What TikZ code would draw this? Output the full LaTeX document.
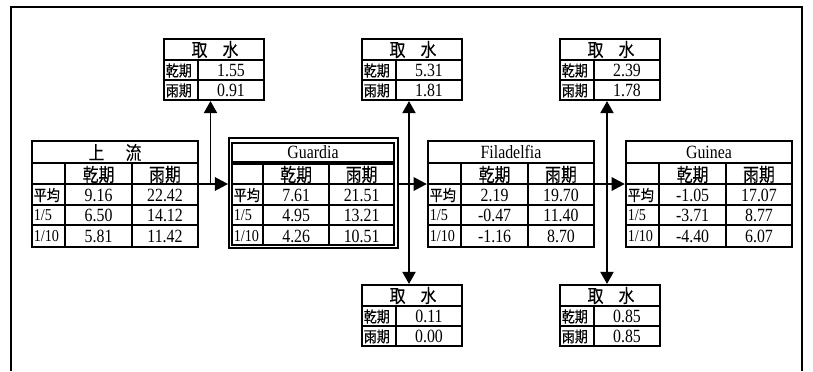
\documentclass[tikz,border=0pt]{standalone}
\usepackage{fontspec}
\setmainfont{Liberation Serif}[FakeStretch=0.85]
\newfontfamily\cjk{Noto Sans CJK TC}[FakeStretch=0.85,FakeBold=0.15]
\usetikzlibrary{arrows.meta}
\tikzset{
 tblbox/.style={draw, line width=1.7pt, inner sep=0pt},
 gline/.style={line width=1.6pt},
 num/.style={inner sep=0pt, font=\fontsize{14}{15}\selectfont},
 lab/.style={inner sep=0pt, anchor=west, font=\fontsize{12.5}{13}\selectfont},
 cjklab/.style={inner sep=0pt, anchor=west, font=\cjk\fontsize{11.5}{12}\selectfont},
 cjkhead/.style={inner sep=0pt, font=\cjk\fontsize{14}{15}\selectfont},
 harrow/.style={line width=1.8pt, -{Triangle[length=10pt,width=10pt]}},
 varrow/.style={line width=0.8pt, -{Triangle[length=9pt,width=10pt]}},
 outerframe/.style={line width=1.5pt},
}
% main table: name, left x, title, six values
\newcommand\mtable[9]{%
 \node[tblbox, minimum width=124.5pt, minimum height=79.5pt] (#1) at ({#2+83},193.7) {};
 \draw[gline] (#2,162.7) -- ++(166,0) (#2,184) -- ++(166,0) (#2,204.7) -- ++(166,0) (#2,225.3) -- ++(166,0)
   ({#2+33},162.7) -- ({#2+33},246.7) ({#2+100},162.7) -- ({#2+100},246.7);
 \node[num] at ({#2+83},152.5) {#3};
 \node[cjkhead] at ({#2+66.6},174.5) {乾期};
 \node[cjkhead] at ({#2+133},174.5) {雨期};
 \node[cjklab] at ({#2+1.5},195) {平均};
 \node[lab] at ({#2+1.5},215.5) {1/5};
 \node[lab] at ({#2+1.5},236) {1/10};
 \node[num] at ({#2+66.6},195) {#4};
 \node[num] at ({#2+133},195) {#5};
 \node[num] at ({#2+66.6},215.5) {#6};
 \node[num] at ({#2+133},215.5) {#7};
 \node[num] at ({#2+66.6},236) {#8};
 \node[num] at ({#2+133},236) {#9};
}
% intake box: name, left x, top y, two values
\newcommand\qbox[5]{%
 \node[tblbox, minimum width=75pt, minimum height=45.75pt] (#1) at ({#2+50},{#3+30.5}) {};
 \draw[gline] (#2,{#3+21}) -- ++(100,0) (#2,{#3+41}) -- ++(100,0) ({#2+34},{#3+21}) -- ({#2+34},{#3+61});
 \node[cjkhead] at ({#2+51},{#3+10.5}) {取\hspace{11.3pt}水};
 \node[cjklab] at ({#2+1.5},{#3+31.5}) {乾期};
 \node[num] at ({#2+67},{#3+31}) {#4};
 \node[cjklab] at ({#2+1.5},{#3+51.5}) {雨期};
 \node[num] at ({#2+67},{#3+51}) {#5};
}
\begin{document}
\begin{tikzpicture}[x=0.75pt,y=-0.75pt]
\useasboundingbox (0,0) rectangle (813,371);
\draw[outerframe] (10.7,371) -- (10.7,7.3) -- (802,7.3) -- (802,371);

\mtable{up}{32}{\cjk 上\hspace{16pt}流}{9.16}{22.42}{6.50}{14.12}{5.81}{11.42}
\mtable{fi}{428}{Filadelfia}{2.19}{19.70}{-0.47}{11.40}{-1.16}{8.70}
\mtable{gn}{626}{Guinea}{-1.05}{17.07}{-3.71}{8.77}{-4.40}{6.07}

% Guardia (double frame)
\node[tblbox, line width=1.3pt, minimum width=126.75pt, minimum height=82.5pt] (gu) at (313.5,193.3) {};
\draw[gline] (232,142.7) rectangle (394,162.3);
\draw[gline] (232,164.3) rectangle (394,245);
\draw[gline] (232,184) -- (394,184) (232,204.7) -- (394,204.7) (232,225.3) -- (394,225.3)
  (263.3,164.3) -- (263.3,245) (329.2,164.3) -- (329.2,245);
\node[num] at (313,152.5) {Guardia};
\node[cjkhead] at (296.2,174.5) {乾期};
\node[cjkhead] at (361.6,174.5) {雨期};
\node[cjklab] at (233.5,195) {平均};
\node[lab] at (233.5,215.5) {1/5};
\node[lab] at (233.5,236) {1/10};
\node[num] at (296.2,195) {7.61};
\node[num] at (361.6,195) {21.51};
\node[num] at (296.2,215.5) {4.95};
\node[num] at (361.6,215.5) {13.21};
\node[num] at (296.2,236) {4.26};
\node[num] at (361.6,236) {10.51};

\qbox{t1}{164}{39}{1.55}{0.91}
\qbox{t2}{362}{39}{5.31}{1.81}
\qbox{t3}{560}{39}{2.39}{1.78}
\qbox{b2}{362}{285}{0.11}{0.00}
\qbox{b3}{560}{285}{0.85}{0.85}

\coordinate (j1) at (210.5,184);
\coordinate (j2) at (409,184);
\coordinate (j3) at (607,184);

\draw[harrow] (up.east |- j1) -- (gu.west |- j1);
\draw[harrow] (gu.east |- j2) -- (fi.west |- j2);
\draw[harrow] (fi.east |- j3) -- (gn.west |- j3);

\draw[varrow] (j1) -- (t1.south -| j1);
\draw[varrow] (j2) -- (t2.south -| j2);
\draw[varrow] (j2) -- (b2.north -| j2);
\draw[varrow] (j3) -- (t3.south -| j3);
\draw[varrow] (j3) -- (b3.north -| j3);
\end{tikzpicture}
\end{document}
